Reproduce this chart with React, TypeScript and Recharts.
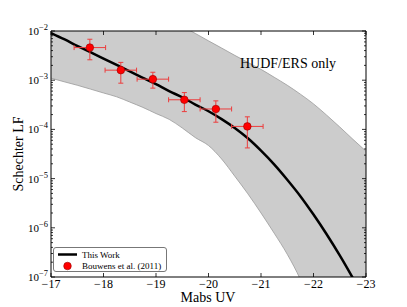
import React from "react";
import {
  ComposedChart, XAxis, YAxis, Area, Line, Scatter, ErrorBar, ReferenceArea, Legend,
} from "recharts";

// Schechter curve and its uncertainty band, sampled every 0.25 mag
const MAGS = [
  -17, -17.25, -17.5, -17.75, -18, -18.25, -18.5, -18.75, -19, -19.25, -19.5, -19.75,
  -20, -20.25, -20.5, -20.75, -21, -21.25, -21.5, -21.75, -22, -22.25, -22.5, -22.75, -23,
];
const CURVE = [
  9.1e-3, 6.8e-3, 5.0e-3, 3.7e-3, 2.75e-3, 2.04e-3, 1.51e-3, 1.12e-3, 8.3e-4, 6.0e-4, 4.5e-4, 3.2e-4,
  2.34e-4, 1.62e-4, 1.07e-4, 6.6e-5, 3.7e-5, 1.95e-5, 9.5e-6, 4.4e-6, 1.86e-6, 7.4e-7, 2.75e-7, 9.5e-8, 3.1e-8,
];
const BAND_HI = [
  0.398, 0.282, 0.2, 0.141, 0.1, 0.0708, 0.0501, 0.0355, 0.0251, 0.0178, 0.0126, 8.9e-3,
  6.3e-3, 4.5e-3, 3.2e-3, 2.3e-3, 1.66e-3, 1.15e-3, 7.9e-4, 5.2e-4, 3.3e-4, 1.95e-4, 1.12e-4, 6.3e-5, 3.6e-5,
];
const BAND_LO = [
  1.1e-3, 9.3e-4, 7.9e-4, 6.6e-4, 5.5e-4, 4.6e-4, 3.6e-4, 2.8e-4, 2.1e-4, 1.6e-4, 1.07e-4, 6.8e-5,
  4.7e-5, 2.5e-5, 1.12e-5, 4.9e-6, 2.0e-6, 7.8e-7, 2.9e-7, 8.9e-8, 2.0e-8, 1e-9, 1e-9, 1e-9, 1e-9,
];

// Bouwens et al. (2011) points
const PT_MAG = [-17.74, -18.33, -18.94, -19.54, -20.14, -20.74];
const PT_MAG_ERR = [0.3, 0.3, 0.3, 0.3, 0.3, 0.3];
const PT_PHI = [4.6e-3, 1.6e-3, 1.05e-3, 4.0e-4, 2.6e-4, 1.15e-4];
const PT_HI = [6.8e-3, 2.3e-3, 1.45e-3, 5.6e-4, 3.8e-4, 1.8e-4];
const PT_LO = [2.6e-3, 8.7e-4, 6.9e-4, 2.3e-4, 1.4e-4, 4.2e-5];

const X_TICKS = [-17, -18, -19, -20, -21, -22, -23];
const Y_MAJOR = [1e-7, 1e-6, 1e-5, 1e-4, 1e-3, 1e-2];
const Y_MINOR = Y_MAJOR.slice(0, -1).flatMap((d) => [2, 3, 4, 5, 6, 7, 8, 9].map((m) => m * d));

const table = MAGS.map((mag, i) => ({ mag, curve: CURVE[i], band: [BAND_LO[i], BAND_HI[i]] }));
const points = PT_MAG.map((mag, i) => ({
  mag,
  phi: PT_PHI[i],
  magErr: PT_MAG_ERR[i],
  phiErr: [PT_PHI[i] - PT_LO[i], PT_HI[i] - PT_PHI[i]],
}));

const W = 407;
const H = 307;
const PLOT_TOP = 31;
const PLOT_RIGHT = 366;
const SERIF = "'Liberation Serif', 'DejaVu Serif', serif";

const minus = (v: number) => String(v).replace("-", "\u2212");

const YTick = (props: any) => {
  const { x, y, payload } = props;
  const v = payload.value;
  const exp = Math.floor(Math.log10(v) + 1e-9);
  const major = Math.abs(v / 10 ** exp - 1) < 1e-6;
  const len = major ? 4 : 2;
  return (
    <g>
      <line x1={x} x2={x + len} y1={y} y2={y} stroke="#000" strokeWidth={0.8} />
      <line x1={PLOT_RIGHT - len} x2={PLOT_RIGHT} y1={y} y2={y} stroke="#000" strokeWidth={0.8} />
      {major && (
        <text x={x - 3} y={y + 4} textAnchor="end" fontFamily={SERIF} fontSize={11} fill="#000">
          10
          <tspan dy={-5} fontSize={8.5}>{minus(exp)}</tspan>
        </text>
      )}
    </g>
  );
};

const XTick = (props: any) => {
  const { x, y, payload } = props;
  return (
    <g>
      <line x1={x} x2={x} y1={y} y2={y - 4} stroke="#000" strokeWidth={0.8} />
      <line x1={x} x2={x} y1={PLOT_TOP} y2={PLOT_TOP + 4} stroke="#000" strokeWidth={0.8} />
      <text x={x} y={y + 11} textAnchor="middle" fontFamily={SERIF} fontSize={12} fill="#000">
        {minus(payload.value)}
      </text>
    </g>
  );
};

const LegendBox = () => (
  <div
    style={{
      width: 112, height: 23, border: "1px solid #777", borderRadius: 3, background: "#fff",
      fontFamily: SERIF, fontSize: 9, color: "#000", position: "relative",
    }}
  >
    <svg width={112} height={23} style={{ position: "absolute", left: 0, top: 0 }}>
      <line x1={4} x2={23} y1={6.5} y2={6.5} stroke="#000" strokeWidth={2.5} />
      <circle cx={13.5} cy={18} r={3.8} fill="#ff0000" stroke="#900" strokeWidth={0.6} />
      <text x={28} y={9.5} fontFamily={SERIF} fontSize={9}>This Work</text>
      <text x={28} y={20.5} fontFamily={SERIF} fontSize={9}>Bouwens et al. (2011)</text>
    </svg>
  </div>
);

export default function App() {
  return (
    <div style={{ position: "absolute", left: 0, top: 0, width: W, height: H, background: "#fff" }}>
      <ComposedChart width={W} height={H} data={table} margin={{ top: PLOT_TOP, right: W - PLOT_RIGHT, bottom: 0, left: 0 }}>
        <XAxis
          type="number" dataKey="mag" domain={[-23, -17]} reversed ticks={X_TICKS} interval={0}
          allowDataOverflow height={30} axisLine={false} tickLine={false} tickSize={0} tickMargin={0}
          tick={<XTick />}
        />
        <YAxis
          scale="log" domain={[1e-7, 1e-2]} allowDataOverflow ticks={[...Y_MAJOR, ...Y_MINOR]} interval={0}
          width={51} axisLine={false} tickLine={false} tickSize={0} tickMargin={0} tick={<YTick />}
        />
        <Area
          type="monotone" dataKey="band" fill="#cccccc" fillOpacity={1} stroke="#9a9a9a"
          strokeWidth={0.8} isAnimationActive={false} dot={false} activeDot={false}
        />
        <Line
          type="monotone" dataKey="curve" stroke="#000" strokeWidth={2.5} dot={false}
          activeDot={false} isAnimationActive={false}
        />
        <Scatter
          data={points} dataKey="phi" isAnimationActive={false}
          shape={(p: any) => <circle cx={p.cx} cy={p.cy} r={3.8} fill="#ff0000" stroke="#900" strokeWidth={0.6} />}
        >
          <ErrorBar dataKey="magErr" direction="x" stroke="#ec3d3d" strokeWidth={1} width={2.5} />
          <ErrorBar dataKey="phiErr" direction="y" stroke="#ec3d3d" strokeWidth={1} width={2.5} />
        </Scatter>
        <ReferenceArea x1={-23} x2={-17} y1={1e-7} y2={1e-2} fill="none" stroke="#000" strokeWidth={1} />
        <Legend
          layout="horizontal" verticalAlign="middle" align="center" content={<LegendBox />}
          wrapperStyle={{ position: "absolute", left: 53, top: 247, width: 114, height: 25 }}
        />
      </ComposedChart>
      <svg width={W} height={H} style={{ position: "absolute", left: 0, top: 0, pointerEvents: "none" }}>
        <text x={23} y={154} transform="rotate(-90, 23, 154)" textAnchor="middle" fontFamily={SERIF} fontSize={14}>
          Schechter LF
        </text>
        <text x={208} y={302} textAnchor="middle" fontFamily={SERIF} fontSize={14}>Mabs UV</text>
        <text x={240} y={68} fontFamily={SERIF} fontSize={14}>HUDF/ERS only</text>
      </svg>
    </div>
  );
}
